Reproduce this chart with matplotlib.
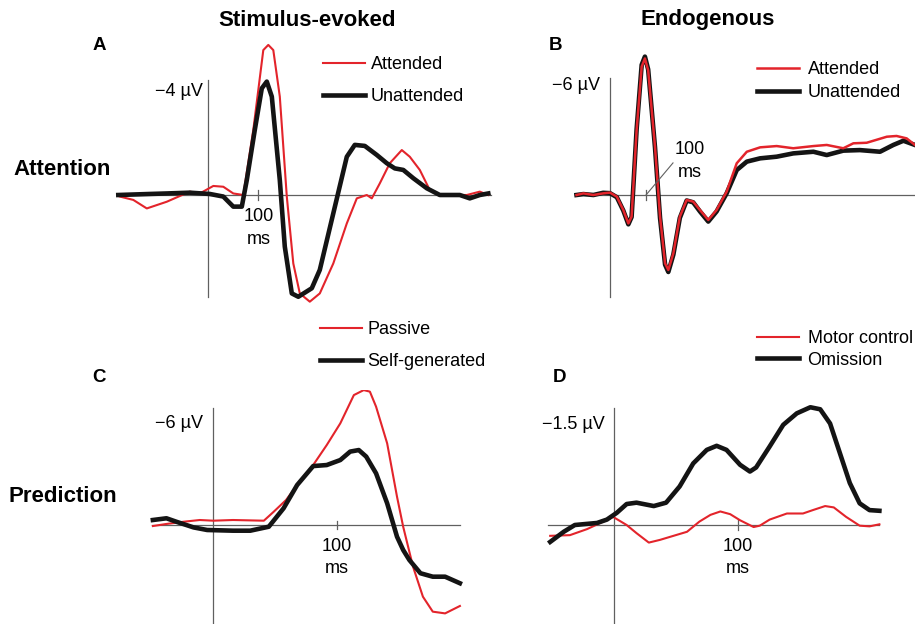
import matplotlib
matplotlib.use("Agg")
import matplotlib.pyplot as plt

plt.rcParams['font.family'] = ['Liberation Sans', 'DejaVu Sans']

W, H = 915, 624
RED = '#e3242b'
BLACK = '#141414'
AXC = '#606060'

# ---- Panel A: stimulus-evoked, attention (ms, uV; negative up)
a_att_t = [-177, -150, -123, -83, -37, -17, 10, 30, 50, 70, 90, 110, 120, 130, 143, 157, 170, 183,
           203, 223, 250, 277, 297, 317, 327, 343, 363, 387, 403, 423, 443, 463, 517, 543, 560]
a_att_v = [0.06, 0.19, 0.52, 0.26, -0.13, -0.06, -0.35, -0.32, -0.06, 0, -2.52, -5.61, -5.81, -5.61,
           -3.81, 0.06, 2.65, 3.81, 4.13, 3.81, 2.65, 1.10, 0.13, 0, 0.13, -0.45, -1.23, -1.74, -1.48,
           -0.97, -0.19, 0, 0, -0.13, 0]
a_un_t = [-180, -117, -83, -37, 3, 30, 50, 67, 77, 93, 107, 117, 127, 143, 153, 167, 180, 207, 223,
          250, 277, 293, 313, 337, 357, 373, 390, 410, 437, 463, 503, 523, 543, 560]
a_un_v = [0, -0.04, -0.06, -0.09, -0.04, 0.06, 0.45, 0.45, -0.58, -2.52, -4.13, -4.39, -3.81, -0.58,
          2.0, 3.81, 3.94, 3.61, 2.90, 0.71, -1.48, -1.94, -1.90, -1.55, -1.23, -1.03, -0.97, -0.65,
          -0.26, 0, 0, 0.13, 0, -0.06]

# ---- Panel B: endogenous, attention
b_att_t = [-93, -74, -46, -19, 0, 19, 37, 51, 60, 74, 88, 97, 106, 125, 139, 153, 162, 176, 194, 213,
           231, 250, 273, 296, 324, 352, 380, 417, 463, 509, 565, 602, 648, 676, 713, 769, 796, 824, 847]
b_att_v = [0, -0.09, 0, -0.09, -0.13, 0.09, 0.82, 1.55, 1.18, -3.55, -7.0, -7.45, -6.8, -2.64, 1.18,
           3.73, 4.09, 3.18, 1.18, 0.27, 0.36, 0.82, 1.36, 0.82, -0.18, -1.73, -2.36, -2.6, -2.67,
           -2.55, -2.67, -2.73, -2.55, -2.82, -2.85, -3.18, -3.22, -3.09, -2.73]
b_un_t = [-93, -74, -46, -19, 0, 19, 37, 51, 60, 74, 88, 97, 106, 125, 139, 153, 162, 176, 194, 213,
          231, 250, 273, 296, 324, 352, 380, 417, 463, 509, 565, 602, 648, 694, 750, 787, 815, 847]
b_un_v = [0, -0.05, 0, -0.12, -0.1, 0.12, 0.85, 1.6, 1.2, -3.6, -7.1, -7.55, -6.85, -2.6, 1.25,
          3.8, 4.2, 3.25, 1.25, 0.3, 0.4, 0.9, 1.45, 0.9, -0.09, -1.36, -1.82, -2.0, -2.09, -2.27,
          -2.36, -2.18, -2.42, -2.45, -2.36, -2.73, -2.96, -2.73]

# ---- Panel C: stimulus-evoked, prediction
c_pas_t = [-49, -38, -24, -11, 0, 16, 41, 49, 59, 70, 81, 92, 103, 114, 122, 127, 132, 141, 149, 154,
           162, 170, 178, 188, 200]
c_pas_v = [0.06, -0.06, -0.19, -0.29, -0.25, -0.29, -0.25, -0.77, -1.45, -2.51, -3.48, -4.64, -5.9,
           -7.54, -7.83, -7.74, -6.87, -4.74, -1.64, 0.1, 2.42, 4.16, 5.03, 5.13, 4.7]
c_self_t = [-49, -38, -30, -16, -5, 16, 30, 45, 57, 68, 81, 92, 103, 111, 118, 124, 132, 141, 149, 154,
            159, 168, 178, 188, 200]
c_self_v = [-0.29, -0.39, -0.19, 0.14, 0.29, 0.33, 0.33, 0.1, -0.97, -2.32, -3.42, -3.48, -3.77,
            -4.26, -4.35, -3.97, -3.0, -1.26, 0.68, 1.45, 2.03, 2.8, 3.0, 3.0, 3.38]

# ---- Panel D: endogenous, prediction
d_mot_t = [-52, -36, -22, -9, -1, 10, 18, 28, 37, 48, 59, 69, 78, 86, 94, 102, 113, 118, 126, 140,
           153, 161, 171, 178, 188, 199, 207, 215]
d_mot_v = [0.16, 0.15, 0.06, -0.05, -0.12, 0, 0.12, 0.26, 0.22, 0.16, 0.1, -0.05, -0.15, -0.2, -0.16,
           -0.07, 0.03, 0.01, -0.08, -0.17, -0.17, -0.22, -0.28, -0.26, -0.12, 0.01, 0.02, -0.01]
d_om_t = [-52, -41, -32, -14, -6, 2, 10, 18, 32, 42, 53, 64, 75, 83, 91, 102, 110, 115, 126, 137, 148,
          159, 167, 175, 183, 191, 199, 207, 215]
d_om_v = [0.25, 0.1, 0, -0.03, -0.08, -0.18, -0.31, -0.33, -0.28, -0.33, -0.57, -0.91, -1.11, -1.17,
          -1.11, -0.89, -0.79, -0.85, -1.16, -1.48, -1.65, -1.74, -1.71, -1.5, -1.06, -0.62, -0.32,
          -0.22, -0.21]

fig = plt.figure(figsize=(W / 100, H / 100), dpi=100)


def panel(box, x0, ppm, y0, ppu):
    # box in pixels (left, top, right, bottom); x0/y0 = pixel of origin, ppm/ppu = px per ms / uV
    l, t, r, b = box
    ax = fig.add_axes([l / W, 1 - b / H, (r - l) / W, (b - t) / H])
    ax.set_xlim((l - x0) / ppm, (r - x0) / ppm)
    ax.set_ylim((b - y0) / ppu, (t - y0) / ppu)
    ax.axis('off')
    return ax


def frame(ax, vtop, vbot, tmin, tmax, tick):
    ax.plot([0, 0], [vtop, vbot], color=AXC, lw=0.9, clip_on=False)
    ax.plot([tmin, tmax], [0, 0], color=AXC, lw=0.9, clip_on=False)
    ax.plot([100, 100], [-tick, tick], color=AXC, lw=0.9, clip_on=False)


def legend(ax, x, y, spacing, gap, order=None):
    h, l = ax.get_legend_handles_labels()
    if order:
        h, l = [h[i] for i in order], [l[i] for i in order]
    ax.legend(h, l, loc='upper left', bbox_to_anchor=(x / W, 1 - y / H), bbox_transform=fig.transFigure,
              frameon=False, fontsize=13, handlelength=2.3, handletextpad=gap,
              labelspacing=spacing, borderpad=0, borderaxespad=0)


def ms_label(ax, t, v):
    ax.text(t, v, '100\nms', ha='center', va='center', fontsize=13, linespacing=1.4)


# A
axA = panel((110, 30, 500, 310), 208.3, 0.5, 195, 25.83)
frame(axA, -4.45, 3.95, -180, 565, 0.2)
axA.plot(a_att_t, a_att_v, color=RED, lw=1.5, label='Attended', solid_joinstyle='round')
axA.plot(a_un_t, a_un_v, color=BLACK, lw=3.3, label='Unattended', solid_joinstyle='round')
ms_label(axA, 100, 1.28)
axA.text(-11, -4.0, '\u22124 \u00b5V', ha='right', va='center', fontsize=13)
legend(axA, 323, 56, 0.85, 0.33)

# B
axB = panel((570, 30, 915, 310), 610, 0.36, 195, 18.33)
frame(axB, -6.38, 5.56, -97, 847, 0.27)
axB.plot(b_un_t, b_un_v, color=BLACK, lw=3.3, label='Unattended', solid_joinstyle='round')
axB.plot(b_att_t, b_att_v, color=RED, lw=1.8, label='Attended', solid_joinstyle='round')
axB.plot([100, 175], [0, -1.75], color=AXC, lw=0.8)
ms_label(axB, 222, -1.85)
axB.text(-28, -6.0, '\u22126 \u00b5V', ha='right', va='center', fontsize=13)
legend(axB, 757, 61, 0.33, 0.5, order=[1, 0])

# C
axC = panel((145, 390, 470, 624), 213.3, 1.233, 525, 17.23)
frame(axC, -6.79, 5.75, -50, 200, 0.25)
axC.plot(c_pas_t, c_pas_v, color=RED, lw=1.5, label='Passive', solid_joinstyle='round')
axC.plot(c_self_t, c_self_v, color=BLACK, lw=3.3, label='Self-generated', solid_joinstyle='round')
ms_label(axC, 100, 1.9)
axC.text(-8, -5.9, '\u22126 \u00b5V', ha='right', va='center', fontsize=13)
legend(axC, 320, 321, 0.85, 0.33)

# D
axD = panel((540, 390, 890, 624), 614.3, 1.233, 525, 67.67)
frame(axD, -1.73, 1.46, -54, 215, 0.07)
axD.plot(d_mot_t, d_mot_v, color=RED, lw=1.5, label='Motor control', solid_joinstyle='round')
axD.plot(d_om_t, d_om_v, color=BLACK, lw=3.3, label='Omission', solid_joinstyle='round')
ms_label(axD, 100, 0.48)
axD.text(-8, -1.48, '\u22121.5 \u00b5V', ha='right', va='center', fontsize=13)
legend(axD, 757, 330, 0.25, 0.5)

# titles, panel letters, row labels
fig.text(307 / W, 1 - 20 / H, 'Stimulus-evoked', ha='center', va='center', fontsize=16, fontweight='bold')
fig.text(708 / W, 1 - 20 / H, 'Endogenous', ha='center', va='center', fontsize=16, fontweight='bold')
for letter, x, y in [('A', 99, 45), ('B', 556, 45), ('C', 99, 378), ('D', 560, 378)]:
    fig.text(x / W, 1 - y / H, letter, ha='center', va='center', fontsize=13.5, fontweight='bold')
fig.text(62 / W, 1 - 170 / H, 'Attention', ha='center', va='center', fontsize=16, fontweight='bold')
fig.text(63 / W, 1 - 497 / H, 'Prediction', ha='center', va='center', fontsize=16, fontweight='bold')

fig.savefig('out.png', dpi=100)
